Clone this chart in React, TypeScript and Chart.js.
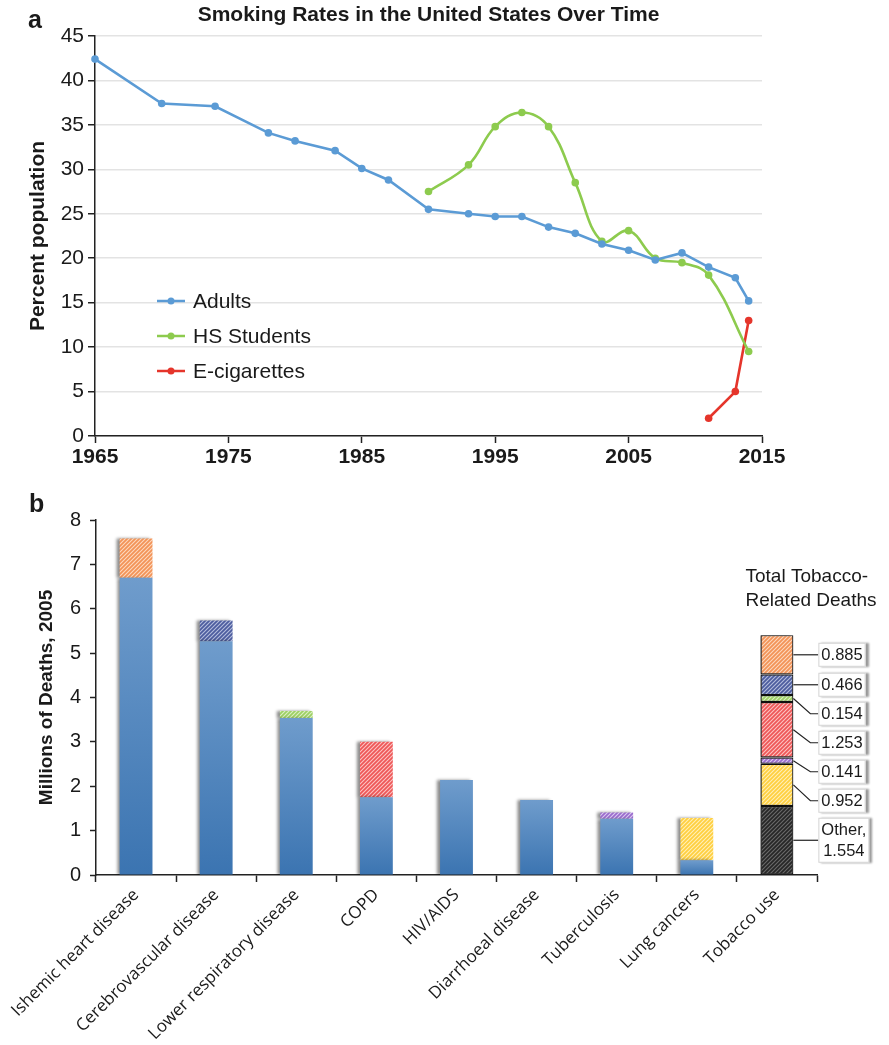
import React, { useEffect, useRef } from "react";
import { Chart, registerables } from "chart.js";

Chart.register(...registerables);

// ---------- Panel a: smoking rates ----------
const adultYears = [1965, 1970, 1974, 1978, 1980, 1983, 1985, 1987, 1990, 1993, 1995, 1997, 1999, 2001, 2003, 2005, 2007, 2009, 2011, 2013, 2014];
const adultRates = [42.4, 37.4, 37.1, 34.1, 33.2, 32.1, 30.1, 28.8, 25.5, 25.0, 24.7, 24.7, 23.5, 22.8, 21.6, 20.9, 19.8, 20.6, 19.0, 17.8, 15.2];
const hsYears = [1990, 1993, 1995, 1997, 1999, 2001, 2003, 2005, 2007, 2009, 2011, 2014];
const hsRates = [27.5, 30.5, 34.8, 36.4, 34.8, 28.5, 21.9, 23.1, 20.0, 19.5, 18.1, 9.5];
const ecigYears = [2011, 2013, 2014];
const ecigRates = [2.0, 5.0, 13.0];
const yearTicks = [1965, 1975, 1985, 1995, 2005, 2015];
const percentTicks = [0, 5, 10, 15, 20, 25, 30, 35, 40, 45];
const seriesNames = ["Adults", "HS Students", "E-cigarettes"];
const titleA = "Smoking Rates in the United States Over Time";

// ---------- Panel b: deaths ----------
const causes = [
  "Ishemic heart disease",
  "Cerebrovascular disease",
  "Lower respiratory disease",
  "COPD",
  "HIV/AIDS",
  "Diarrhoeal disease",
  "Tuberculosis",
  "Lung cancers",
  "Tobacco use",
];
const otherCauseDeaths = [6.7, 5.27, 3.54, 1.75, 2.14, 1.69, 1.27, 0.33];
const tobaccoDeaths = [0.885, 0.466, 0.154, 1.253, 0, 0, 0.141, 0.952];
const otherTobaccoDeaths = 1.554;
const deathTicks = [0, 1, 2, 3, 4, 5, 6, 7, 8];

// ---------- styles ----------
const SANS = "'Liberation Sans', Arial, Helvetica, sans-serif";
const OPEN = "'Open Sans', 'Noto Sans', sans-serif";
const INK = "#1a1a1a";
const BLUE = "#5B9BD5";
const GREEN = "#8DCB4E";
const RED = "#E5352B";
const HATCH_COLORS: any = {
  0: ["#F39357", "#FCD9BF"],
  1: ["#4C5C9E", "#B4BDDD"],
  2: ["#9DD064", "#DDF0C6"],
  3: ["#EE5757", "#FBC3C3"],
  6: ["#9A6CCD", "#DCCAF1"],
  7: ["#FFCF3F", "#FFF0B8"],
  8: ["#262626", "#6a6a6a"],
};

function hatch(base: string, line: string) {
  const c = document.createElement("canvas");
  c.width = 4;
  c.height = 4;
  const g = c.getContext("2d")!;
  g.fillStyle = base;
  g.fillRect(0, 0, 4, 4);
  g.strokeStyle = line;
  g.lineWidth = 1.1;
  g.beginPath();
  g.moveTo(-1, 5);
  g.lineTo(5, -1);
  g.moveTo(-1, 1);
  g.lineTo(1, -1);
  g.moveTo(3, 5);
  g.lineTo(5, 3);
  g.stroke();
  return g.createPattern(c, "repeat")!;
}

const pts = (xs: number[], ys: number[]) => xs.map((x, i) => ({ x, y: ys[i] }));

export default function App() {
  const topRef = useRef<HTMLCanvasElement>(null);
  const botRef = useRef<HTMLCanvasElement>(null);

  useEffect(() => {
    // ---------- Chart a ----------
    const topDecor = {
      id: "topDecor",
      afterDraw(chart: any) {
        const { ctx, chartArea } = chart;
        ctx.save();
        ctx.fillStyle = INK;
        ctx.font = `bold 25px ${SANS}`;
        ctx.textAlign = "left";
        ctx.textBaseline = "alphabetic";
        ctx.fillText("a", 28, 28);
        ctx.font = `bold 21px ${SANS}`;
        ctx.textAlign = "center";
        ctx.textBaseline = "middle";
        ctx.fillText(titleA, (chartArea.left + chartArea.right) / 2, 15);
        ctx.font = `21px ${SANS}`;
        ctx.textAlign = "left";
        chart.data.datasets.forEach((ds: any, i: number) => {
          const y = chartArea.top + 265 + i * 35;
          const x0 = chartArea.left + 62;
          ctx.strokeStyle = ds.borderColor;
          ctx.lineWidth = 2.5;
          ctx.beginPath();
          ctx.moveTo(x0, y);
          ctx.lineTo(x0 + 28, y);
          ctx.stroke();
          ctx.fillStyle = ds.borderColor;
          ctx.beginPath();
          ctx.arc(x0 + 14, y, 3.5, 0, Math.PI * 2);
          ctx.fill();
          ctx.fillStyle = INK;
          ctx.fillText(ds.label, x0 + 36, y + 1);
        });
        ctx.restore();
      },
    };

    const lineDs = (label: string, data: any[], color: string, tension: number) => ({
      label,
      data,
      borderColor: color,
      backgroundColor: color,
      pointBackgroundColor: color,
      pointBorderWidth: 0,
      pointRadius: 3.8,
      pointHoverRadius: 3.8,
      borderWidth: 2.6,
      tension,
      clip: false,
    });

    const top = new Chart(topRef.current!, {
      type: "line",
      data: {
        datasets: [
          lineDs(seriesNames[0], pts(adultYears, adultRates), BLUE, 0),
          lineDs(seriesNames[1], pts(hsYears, hsRates), GREEN, 0.4),
          lineDs(seriesNames[2], pts(ecigYears, ecigRates), RED, 0),
        ],
      },
      options: {
        responsive: false,
        animation: false,
        devicePixelRatio: 1,
        layout: { padding: { top: 36, right: 127, left: 0, bottom: 0 } },
        plugins: { legend: { display: false }, tooltip: { enabled: false }, title: { display: false } },
        scales: {
          x: {
            type: "linear",
            min: 1965,
            max: 2015,
            afterBuildTicks: (s: any) => {
              s.ticks = yearTicks.map((v) => ({ value: v }));
            },
            ticks: {
              callback: (v: any) => String(v),
              font: { family: SANS, size: 21, weight: "bold" },
              color: INK,
              padding: 2,
              maxRotation: 0,
            },
            grid: { drawOnChartArea: false, tickLength: 7, tickColor: "#222", tickWidth: 1.5 },
            border: { color: "#222", width: 1.5 },
            afterFit: (s: any) => {
              s.height = 39;
              s.paddingLeft = 0;
              s.paddingRight = 0;
            },
          },
          y: {
            min: 0,
            max: 45,
            afterBuildTicks: (s: any) => {
              s.ticks = percentTicks.map((v) => ({ value: v }));
            },
            ticks: { font: { family: SANS, size: 21 }, color: INK, padding: 4 },
            grid: { color: "#e3e3e3", lineWidth: 1.5, tickLength: 7, tickColor: "#222", tickWidth: 1.5 },
            border: { color: "#222", width: 1.5 },
            title: {
              display: true,
              text: "Percent population",
              font: { family: SANS, size: 21, weight: "bold" },
              color: INK,
              padding: { top: 26, bottom: 0 },
            },
            afterFit: (s: any) => {
              s.width = 95;
            },
          },
        },
      } as any,
      plugins: [topDecor],
    });

    // ---------- Chart b ----------
    const pats: any = {};
    Object.keys(HATCH_COLORS).forEach((k) => {
      pats[k] = hatch(HATCH_COLORS[k][0], HATCH_COLORS[k][1]);
    });
    const tobaccoIdx = causes.length - 1;

    const blueGrad = (c: any) => {
      const chart = c.chart;
      const ys = chart.scales && chart.scales.y;
      if (!ys || !chart.chartArea || typeof c.raw !== "number") return "#4F86C0";
      const t = ys.getPixelForValue(c.raw);
      const b = ys.getPixelForValue(0);
      if (!isFinite(t) || !isFinite(b) || t === b) return "#4F86C0";
      const g = chart.ctx.createLinearGradient(0, t, 0, b);
      g.addColorStop(0, "#6F9CCC");
      g.addColorStop(1, "#3B74B1");
      return g;
    };

    const borderW = (c: any) => (c.dataIndex === tobaccoIdx ? 1.2 : 0);

    const order = tobaccoDeaths
      .map((_, i) => i)
      .reverse()
      .filter((i) => tobaccoDeaths[i] > 0);

    const datasets: any[] = [
      {
        label: "Other causes",
        data: [...otherCauseDeaths, otherTobaccoDeaths],
        backgroundColor: (c: any) => (c.dataIndex === tobaccoIdx ? pats[8] : blueGrad(c)),
        borderColor: "#111",
        borderWidth: borderW,
        borderSkipped: false,
      },
      ...order.map((i) => ({
        label: causes[i],
        data: causes.map((_, j) => (j === i || j === tobaccoIdx ? tobaccoDeaths[i] : null)),
        backgroundColor: pats[i],
        borderColor: "#111",
        borderWidth: borderW,
        borderSkipped: false,
      })),
    ];

    const barShadow = {
      id: "barShadow",
      beforeDatasetsDraw(chart: any) {
        const ctx = chart.ctx;
        ctx.save();
        ctx.shadowColor = "rgba(0,0,0,0.45)";
        ctx.shadowBlur = 3;
        ctx.shadowOffsetX = -3;
        ctx.shadowOffsetY = 0;
      },
      afterDatasetsDraw(chart: any) {
        chart.ctx.restore();
      },
    };

    const botDecor = {
      id: "botDecor",
      afterDraw(chart: any) {
        const { ctx } = chart;
        ctx.save();
        ctx.fillStyle = INK;
        ctx.font = `bold 25px ${SANS}`;
        ctx.textAlign = "left";
        ctx.textBaseline = "alphabetic";
        ctx.fillText("b", 29, 32);

        // callouts for the Tobacco use bar
        const items: any[] = [];
        chart.data.datasets.forEach((ds: any, di: number) => {
          const el = chart.getDatasetMeta(di).data[tobaccoIdx];
          if (!el) return;
          const v = ds.data[tobaccoIdx];
          const lines = di === 0 ? ["Other,", v.toFixed(3)] : [v.toFixed(3)];
          items.push({
            c: (el.y + el.base) / 2,
            right: el.x + el.width / 2,
            left: el.x - el.width / 2,
            top: Math.min(el.y, el.base),
            lines,
          });
        });
        items.sort((a, b) => a.c - b.c);
        const barTop = items[0].top;
        const barLeft = items[0].left;
        const barRight = items[0].right;

        ctx.font = `19px ${SANS}`;
        ctx.textAlign = "left";
        ctx.textBaseline = "middle";
        ctx.fillText("Total Tobacco-", barLeft - 15, barTop - 58);
        ctx.fillText("Related Deaths", barLeft - 15, barTop - 34);

        ctx.font = `16.5px ${SANS}`;
        const lineH = 21;
        let prevY = -1e9;
        let prevH = 0;
        const boxLeft = barRight + 25;
        items.forEach((it) => {
          const h = it.lines.length * lineH + 3;
          const gap = (h + prevH) / 2 + 5;
          const y = Math.max(it.c, prevY + gap);
          prevY = y;
          prevH = h;
          const w = Math.max(...it.lines.map((l: string) => ctx.measureText(l).width)) + 6;
          // leader line
          ctx.strokeStyle = "#222";
          ctx.lineWidth = 1.2;
          ctx.beginPath();
          ctx.moveTo(barRight, it.c);
          ctx.lineTo(boxLeft - 8, y);
          ctx.lineTo(boxLeft, y);
          ctx.stroke();
          // box
          ctx.save();
          ctx.shadowColor = "rgba(0,0,0,0.4)";
          ctx.shadowBlur = 2;
          ctx.shadowOffsetX = 3;
          ctx.fillStyle = "#fff";
          ctx.fillRect(boxLeft, y - h / 2, w, h);
          ctx.restore();
          ctx.strokeStyle = "#d4d4d4";
          ctx.lineWidth = 1;
          ctx.strokeRect(boxLeft + 0.5, y - h / 2 + 0.5, w - 1, h - 1);
          ctx.fillStyle = INK;
          ctx.textAlign = "center";
          it.lines.forEach((l: string, k: number) => {
            ctx.fillText(l, boxLeft + w / 2, y - ((it.lines.length - 1) * lineH) / 2 + k * lineH + 1);
          });
        });
        ctx.restore();
      },
    };

    const bot = new Chart(botRef.current!, {
      type: "bar",
      data: { labels: causes, datasets },
      options: {
        responsive: false,
        animation: false,
        devicePixelRatio: 1,
        datasets: { bar: { barPercentage: 0.41, categoryPercentage: 1 } },
        layout: { padding: { top: 40, right: 72, left: 0, bottom: 0 } },
        plugins: { legend: { display: false }, tooltip: { enabled: false } },
        scales: {
          x: {
            stacked: true,
            grid: { display: true, drawOnChartArea: false, offset: true, tickLength: 7, tickColor: "#222", tickWidth: 1.5 },
            border: { color: "#222", width: 1.5 },
            ticks: {
              autoSkip: false,
              minRotation: 45,
              maxRotation: 45,
              font: { family: OPEN, size: 17 },
              color: INK,
              padding: 3,
            },
            afterFit: (s: any) => {
              s.height = 170;
              s.paddingLeft = 0;
              s.paddingRight = 0;
            },
          },
          y: {
            stacked: true,
            min: 0,
            max: 8,
            afterBuildTicks: (s: any) => {
              s.ticks = deathTicks.map((v) => ({ value: v }));
            },
            ticks: { font: { family: SANS, size: 20 }, color: INK, padding: 9 },
            grid: { drawOnChartArea: false, tickLength: 6, tickColor: "#222", tickWidth: 1.5 },
            border: { color: "#222", width: 1.5 },
            title: {
              display: true,
              text: "Millions of Deaths, 2005",
              font: { family: SANS, size: 19, weight: "bold" },
              color: INK,
              padding: { top: 35, bottom: 0 },
            },
            afterFit: (s: any) => {
              s.width = 96;
            },
          },
        },
      } as any,
      plugins: [barShadow, botDecor],
    });

    return () => {
      top.destroy();
      bot.destroy();
    };
  }, []);

  return (
    <div style={{ position: "absolute", left: 0, top: 0, width: 889, height: 1045, background: "#fff" }}>
      <canvas
        ref={topRef}
        width={889}
        height={475}
        style={{ position: "absolute", left: 0, top: 0, width: 889, height: 475 }}
      />
      <canvas
        ref={botRef}
        width={889}
        height={565}
        style={{ position: "absolute", left: 0, top: 480, width: 889, height: 565 }}
      />
    </div>
  );
}
